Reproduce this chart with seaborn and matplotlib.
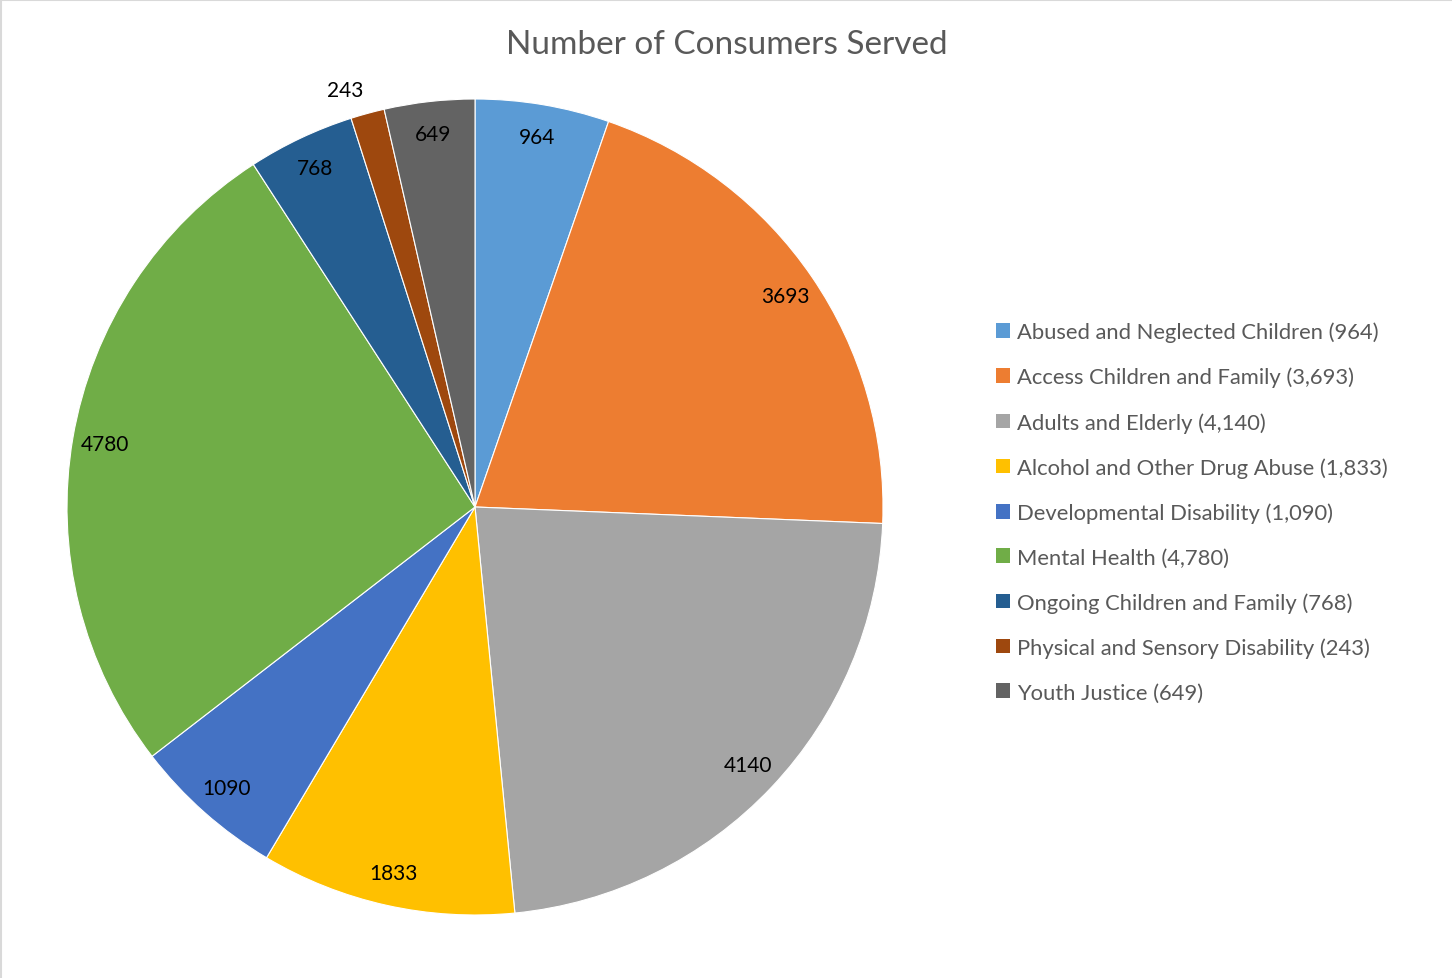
import matplotlib
matplotlib.use("Agg")
import matplotlib.pyplot as plt
from matplotlib.lines import Line2D
from matplotlib.patches import Patch
import seaborn as sns
import numpy as np

categories = [
    "Abused and Neglected Children",
    "Access Children and Family",
    "Adults and Elderly",
    "Alcohol and Other Drug Abuse",
    "Developmental Disability",
    "Mental Health",
    "Ongoing Children and Family",
    "Physical and Sensory Disability",
    "Youth Justice",
]
consumers = [964, 3693, 4140, 1833, 1090, 4780, 768, 243, 649]
colors = ["#5B9BD5", "#ED7D31", "#A5A5A5", "#FFC000", "#4472C4",
          "#70AD47", "#255E91", "#9E480E", "#636363"]

sns.set_theme(style="white")
plt.rcParams["font.family"] = ["Lato", "DejaVu Sans"]

W, H = 1452, 979
fig = plt.figure(figsize=(W / 100, H / 100), dpi=100)
fig.patch.set_facecolor("white")

# pie axes: centre (475, 508) px, radius 408 px
cx, cy, r = 475, 508, 408
ax = fig.add_axes([(cx - r) / W, (H - cy - r) / H, 2 * r / W, 2 * r / H])

labels_iter = iter(consumers)
wedges, texts, autotexts = ax.pie(
    consumers,
    colors=colors,
    startangle=90,
    counterclock=False,
    radius=1,
    autopct=lambda p: f"{next(labels_iter)}",
    pctdistance=0.92,
    wedgeprops=dict(edgecolor="white", linewidth=0.8),
    textprops=dict(fontsize=15, color="black"),
)
ax.set_xlim(-1, 1)
ax.set_ylim(-1, 1)
ax.axis("off")

# the narrow slice gets its label just outside the rim
for w, t, v in zip(wedges, autotexts, consumers):
    if v < 400:
        ang = np.deg2rad((w.theta1 + w.theta2) / 2 + 2)
        t.set_position((1.07 * np.cos(ang), 1.07 * np.sin(ang)))

fig.text(727 / W, 1 - 45 / H, "Number of Consumers Served",
         ha="center", va="center", fontsize=24, color="#595959")

handles = [Patch(facecolor=c, edgecolor="none") for c in colors]
leg_labels = [f"{n} ({v:,})" for n, v in zip(categories, consumers)]
leg = fig.legend(handles, leg_labels, loc="center left",
                 bbox_to_anchor=(996 / W, 1 - 513 / H),
                 frameon=False, fontsize=15.8, labelcolor="#595959",
                 handlelength=0.65, handleheight=0.65, handletextpad=0.3,
                 labelspacing=1.12, borderpad=0, borderaxespad=0)

# light frame along the top and left edges
fig.add_artist(Line2D([0.5 / W, 0.5 / W], [0, 1], color="#D9D9D9", lw=1.5,
                      transform=fig.transFigure))
fig.add_artist(Line2D([0, 1], [1 - 0.5 / H, 1 - 0.5 / H], color="#D9D9D9", lw=1.5,
                      transform=fig.transFigure))

fig.savefig("out.png", dpi=100, facecolor="white")
